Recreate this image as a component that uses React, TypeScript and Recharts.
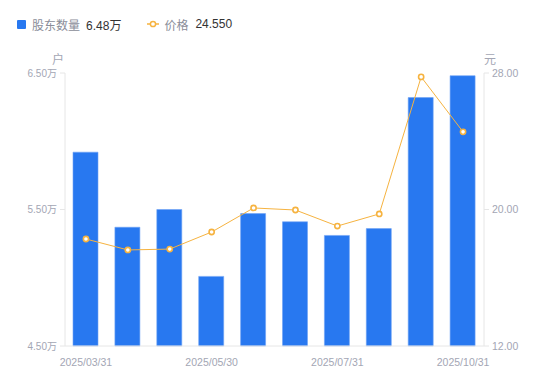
import { ComposedChart, Bar, Line, XAxis, YAxis } from 'recharts';

const dates = [
  '2025/03/31', '2025/04/10', '2025/04/30', '2025/05/30', '2025/06/20',
  '2025/06/30', '2025/07/31', '2025/08/31', '2025/09/30', '2025/10/31',
];
const holders = [5.92, 5.37, 5.5, 5.01, 5.47, 5.41, 5.31, 5.36, 6.32, 6.48];
const prices = [18.27, 17.63, 17.68, 18.68, 20.09, 19.97, 19.03, 19.74, 27.77, 24.55];
const leftTicks = [4.5, 5.5, 6.5];
const rightTicks = [12, 20, 28];

const data = dates.map((d, i) => ({ date: d, holders: holders[i], price: prices[i] }));

const FONT = "'Liberation Sans', 'Noto Sans CJK SC', sans-serif";
const TICK = '#a3a6b4';
const BLUE = '#2878f0';
const ORANGE = '#f6b340';

function LegendBox() {
  const last = data[data.length - 1];
  return (
    <div style={{ position: 'absolute', left: 17, top: 14, display: 'flex', alignItems: 'center', fontSize: 12, fontFamily: FONT, height: 20 }}>
      <span style={{ width: 9, height: 9, background: BLUE, borderRadius: 1, display: 'inline-block' }} />
      <span style={{ color: '#8a8d99', marginLeft: 6 }}>股东数量</span>
      <span style={{ color: '#333', marginLeft: 6 }}>{last.holders.toFixed(2)}万</span>
      <svg width={12} height={8} style={{ marginLeft: 26 }}>
        <line x1={0} y1={4} x2={12} y2={4} stroke={ORANGE} strokeWidth={1.5} />
        <circle cx={6} cy={4} r={2.6} fill="#fff" stroke={ORANGE} strokeWidth={1.5} />
      </svg>
      <span style={{ color: '#8a8d99', marginLeft: 5 }}>价格</span>
      <span style={{ color: '#333', marginLeft: 7 }}>{last.price.toFixed(3)}</span>
    </div>
  );
}

export default function App() {
  return (
    <div style={{ position: 'absolute', left: 0, top: 0, width: 550, height: 381, background: '#fff' }}>
      <ComposedChart width={550} height={381} data={data} margin={{ top: 73, right: 0, bottom: 5, left: 0 }}>
        <XAxis
          dataKey="date"
          interval={2}
          height={30}
          axisLine={{ stroke: '#e6e6e6' }}
          tickLine={false}
          tickMargin={7}
          tick={{ fill: TICK, fontSize: 10.5, fontFamily: FONT }}
        />
        <YAxis
          yAxisId="left"
          width={65}
          domain={[4.5, 6.5]}
          ticks={leftTicks}
          tickFormatter={(v: number) => `${v.toFixed(2)}万`}
          axisLine={{ stroke: '#e6e6e6' }}
          tickLine={{ stroke: '#e6e6e6' }}
          tickSize={5}
          tickMargin={3}
          tick={{ fill: TICK, fontSize: 10, fontFamily: FONT }}
        />
        <YAxis
          yAxisId="right"
          orientation="right"
          width={66}
          domain={[12, 28]}
          ticks={rightTicks}
          tickFormatter={(v: number) => v.toFixed(2)}
          axisLine={{ stroke: '#e6e6e6' }}
          tickLine={{ stroke: '#e6e6e6' }}
          tickSize={5}
          tickMargin={3}
          tick={{ fill: TICK, fontSize: 10.5, fontFamily: FONT }}
        />
        <Bar
          yAxisId="left"
          dataKey="holders"
          fill={BLUE}
          stroke="#6ea3f5"
          strokeWidth={0.6}
          barSize={25}
          isAnimationActive={false}
        />
        <Line
          yAxisId="right"
          dataKey="price"
          type="linear"
          stroke={ORANGE}
          strokeWidth={1}
          dot={{ r: 2.6, fill: '#fff', stroke: ORANGE, strokeWidth: 1.6 }}
          activeDot={false}
          isAnimationActive={false}
        />
      </ComposedChart>
      <LegendBox />
      <div style={{ position: 'absolute', left: 52, top: 50, fontSize: 12, color: TICK, fontFamily: FONT }}>户</div>
      <div style={{ position: 'absolute', left: 484, top: 50, fontSize: 12, color: TICK, fontFamily: FONT }}>元</div>
    </div>
  );
}
